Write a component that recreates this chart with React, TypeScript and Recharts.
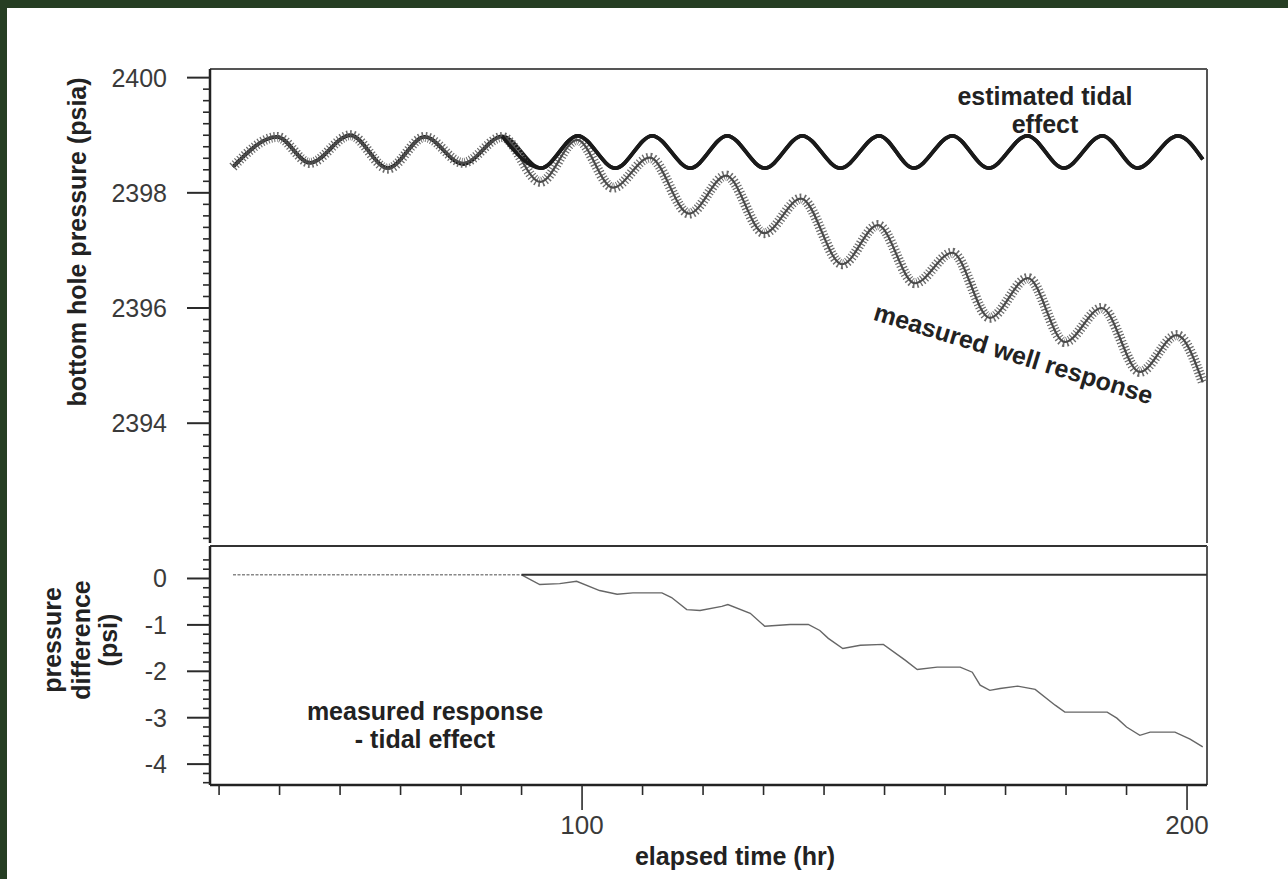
import React from 'react';
import { LineChart, Line, XAxis, YAxis, ReferenceLine } from 'recharts';

// ---------- data ----------
const tidalHours = [42.3, 49.6, 55.0, 61.7, 67.9, 74.0, 80.3, 86.8, 93.2, 99.3, 105.5, 111.6, 117.9, 124.0, 130.2, 136.4, 142.7, 149.1, 154.8, 161.2, 167.2, 173.6, 179.6, 186.0, 191.8, 198.5, 202.6];
const tidalPsia = [2398.45, 2398.97, 2398.52, 2399.0, 2398.43, 2398.97, 2398.5, 2398.98, 2398.43, 2398.99, 2398.43, 2398.99, 2398.43, 2398.99, 2398.43, 2398.99, 2398.43, 2398.99, 2398.43, 2398.99, 2398.43, 2398.99, 2398.43, 2398.99, 2398.43, 2398.99, 2398.58];

const measuredHours = [42.3, 49.6, 55.0, 61.7, 67.9, 74.0, 80.3, 86.8, 93.1, 99.2, 105.1, 111.2, 117.7, 123.8, 130.1, 136.2, 143.0, 148.9, 155.0, 161.2, 167.4, 173.7, 179.8, 185.9, 192.2, 198.3, 202.6];
const measuredPsia = [2398.45, 2398.97, 2398.52, 2399.0, 2398.42, 2398.97, 2398.52, 2398.97, 2398.19, 2398.92, 2398.09, 2398.61, 2397.64, 2398.3, 2397.3, 2397.9, 2396.76, 2397.44, 2396.43, 2396.96, 2395.83, 2396.52, 2395.41, 2396.0, 2394.89, 2395.53, 2394.71];

const diffHours = [42.3, 90.0, 93.0, 96.3, 99.1, 102.9, 105.8, 108.4, 113.2, 114.8, 117.3, 119.5, 123.1, 124.1, 127.8, 130.2, 134.4, 137.4, 139.3, 140.7, 143.1, 146.0, 149.8, 153.4, 155.4, 158.7, 162.5, 164.5, 165.8, 167.4, 169.1, 172.0, 174.9, 178.2, 179.8, 182.3, 186.8, 188.4, 190.0, 192.2, 193.9, 198.0, 200.5, 202.6];
const diffPsi = [0.08, 0.08, -0.13, -0.11, -0.06, -0.26, -0.34, -0.31, -0.31, -0.41, -0.67, -0.69, -0.6, -0.56, -0.75, -1.03, -0.99, -0.99, -1.12, -1.29, -1.51, -1.44, -1.42, -1.76, -1.96, -1.91, -1.91, -2.02, -2.3, -2.41, -2.37, -2.32, -2.39, -2.73, -2.88, -2.88, -2.88, -3.01, -3.2, -3.38, -3.31, -3.31, -3.46, -3.63];

const baselineHours = [90.0, 203.3];
const baselinePsi = [0.08, 0.08];

const xTickHours = [40, 50, 60, 70, 80, 90, 100, 110, 120, 130, 140, 150, 160, 170, 180, 190, 200];
const xMajorHours = [100, 200];
const topMajorTicks = [2394, 2396, 2398, 2400];
const bottomMajorTicks = [0, -1, -2, -3, -4];

const X_DOMAIN: [number, number] = [38.5, 203.3];
const TOP_DOMAIN: [number, number] = [2391.92, 2400.15];
const BOTTOM_DOMAIN: [number, number] = [-4.45, 0.7];

const topMinorTicks = Array.from({ length: 41 }, (_, i) => Math.round((2392 + i * 0.2) * 10) / 10);
const bottomMinorTicks = Array.from({ length: 25 }, (_, i) => Math.round((-4.4 + i * 0.2) * 10) / 10);

const zip = (xs: number[], ys: number[]) => xs.map((t, i) => ({ t, v: ys[i] }));
const tidalData = zip(tidalHours, tidalPsia);
const tidalLate = tidalData.filter((d) => d.t >= 86.8);
const measuredData = zip(measuredHours, measuredPsia);
const diffData = zip(diffHours, diffPsi);
const diffEarly = diffData.filter((d) => d.t <= 90);
const diffLate = diffData.filter((d) => d.t >= 90);
const baselineData = zip(baselineHours, baselinePsi);

const FONT = '"Liberation Sans", Arial, Helvetica, sans-serif';
const AXIS = '#2a2a2a';

const makeYTick = (majors: number[]) => (props: any) => {
  const { x, y, payload } = props;
  const v = payload.value as number;
  const major = majors.some((m) => Math.abs(m - v) < 1e-6);
  const len = major ? 23 : 7;
  return (
    <g>
      <line x1={x - len} x2={x} y1={y} y2={y} stroke={AXIS} strokeWidth={major ? 2 : 1.6} />
      {major && (
        <text x={x - 43} y={y + 9} textAnchor="end" fontFamily={FONT} fontSize={25} fill="#3a3a3a">
          {String(Math.round(v))}
        </text>
      )}
    </g>
  );
};

const XTick = (props: any) => {
  const { x, y, payload } = props;
  const v = payload.value as number;
  const major = xMajorHours.includes(v);
  return (
    <g>
      <line x1={x} x2={x} y1={y} y2={y + (major ? 25 : 10)} stroke={AXIS} strokeWidth={1.6} />
      {major && (
        <text x={x} y={y + 49} textAnchor="middle" fontFamily={FONT} fontSize={26} fill="#3a3a3a">
          {String(v)}
        </text>
      )}
    </g>
  );
};

const boldText = { fontFamily: FONT, fontSize: 25, fontWeight: 700, fill: '#222' } as const;

export default function App() {
  return (
    <div style={{ position: 'relative', width: 1288, height: 879, background: '#263e23', overflow: 'hidden' }}>
      <style>{'body{margin:0}'}</style>
      <div style={{ position: 'absolute', left: 7, top: 8, width: 1281, height: 871, background: '#fff' }} />

      {/* top panel */}
      <div style={{ position: 'absolute', left: 0, top: 0 }}>
        <LineChart width={1288} height={560} margin={{ top: 69, right: 81, bottom: 17, left: 0 }}>
          <XAxis dataKey="t" type="number" domain={X_DOMAIN} allowDataOverflow height={0} tick={false} tickLine={false} axisLine={{ stroke: '#222', strokeWidth: 2.5 }} />
          <YAxis
            dataKey="v"
            type="number"
            domain={TOP_DOMAIN}
            allowDataOverflow
            width={210}
            ticks={topMinorTicks}
            interval={0}
            tickSize={0}
            tickMargin={0}
            tickLine={false}
            tick={makeYTick(topMajorTicks)}
            axisLine={{ stroke: '#222', strokeWidth: 2.5 }}
          />
          <ReferenceLine y={TOP_DOMAIN[1]} stroke="#555" strokeWidth={2} ifOverflow="visible" />
          <ReferenceLine x={X_DOMAIN[1]} stroke="#555" strokeWidth={2} ifOverflow="visible" />
          <Line data={tidalData} dataKey="v" type="monotone" stroke="#1a1a1a" strokeWidth={3.8} dot={false} isAnimationActive={false} />
          <Line data={measuredData} dataKey="v" type="monotone" stroke="#6a6a6a" strokeWidth={10} strokeDasharray="1.2 2" dot={false} isAnimationActive={false} />
          <Line data={measuredData} dataKey="v" type="monotone" stroke="#4a4a4a" strokeWidth={2.2} dot={false} isAnimationActive={false} />
          <Line data={tidalLate} dataKey="v" type="monotone" stroke="#1a1a1a" strokeWidth={3.8} dot={false} isAnimationActive={false} />
        </LineChart>
      </div>

      {/* bottom panel */}
      <div style={{ position: 'absolute', left: 0, top: 530 }}>
        <LineChart width={1288} height={349} margin={{ top: 16, right: 81, bottom: 0, left: 0 }}>
          <XAxis
            dataKey="t"
            type="number"
            domain={X_DOMAIN}
            allowDataOverflow
            height={94}
            ticks={xTickHours}
            interval={0}
            tickSize={0}
            tickMargin={0}
            tickLine={false}
            tick={XTick}
            axisLine={{ stroke: '#222', strokeWidth: 2.5 }}
          />
          <YAxis
            dataKey="v"
            type="number"
            domain={BOTTOM_DOMAIN}
            allowDataOverflow
            width={210}
            ticks={bottomMinorTicks}
            interval={0}
            tickSize={0}
            tickMargin={0}
            tickLine={false}
            tick={makeYTick(bottomMajorTicks)}
            axisLine={{ stroke: '#222', strokeWidth: 2.5 }}
          />
          <ReferenceLine y={BOTTOM_DOMAIN[1]} stroke="#333" strokeWidth={2.2} ifOverflow="visible" />
          <ReferenceLine x={X_DOMAIN[1]} stroke="#555" strokeWidth={2} ifOverflow="visible" />
          <Line data={diffEarly} dataKey="v" type="linear" stroke="#888" strokeWidth={1.5} strokeDasharray="3 1.5" dot={false} isAnimationActive={false} />
          <Line data={diffLate} dataKey="v" type="linear" stroke="#666" strokeWidth={1.4} dot={false} isAnimationActive={false} />
          <Line data={baselineData} dataKey="v" type="linear" stroke="#333" strokeWidth={2.2} dot={false} isAnimationActive={false} />
        </LineChart>
      </div>

      {/* annotations */}
      <svg width={1288} height={879} style={{ position: 'absolute', left: 0, top: 0, pointerEvents: 'none' }}>
        <text x={1045} y={105} textAnchor="middle" {...boldText}>estimated tidal</text>
        <text x={1045} y={133} textAnchor="middle" {...boldText}>effect</text>
        <text transform="translate(1011,362) rotate(17)" textAnchor="middle" {...boldText}>measured well response</text>
        <text x={425} y={720} textAnchor="middle" {...boldText}>measured response</text>
        <text x={425} y={748} textAnchor="middle" {...boldText}>- tidal effect</text>
        <text x={735} y={865} textAnchor="middle" {...boldText}>elapsed time (hr)</text>
        <text transform="translate(86,242) rotate(-90)" textAnchor="middle" {...boldText}>bottom hole pressure (psia)</text>
        <text transform="translate(61,640) rotate(-90)" textAnchor="middle" {...boldText}>pressure</text>
        <text transform="translate(90,640) rotate(-90)" textAnchor="middle" {...boldText}>difference</text>
        <text transform="translate(117,640) rotate(-90)" textAnchor="middle" {...boldText}>(psi)</text>
      </svg>
    </div>
  );
}
